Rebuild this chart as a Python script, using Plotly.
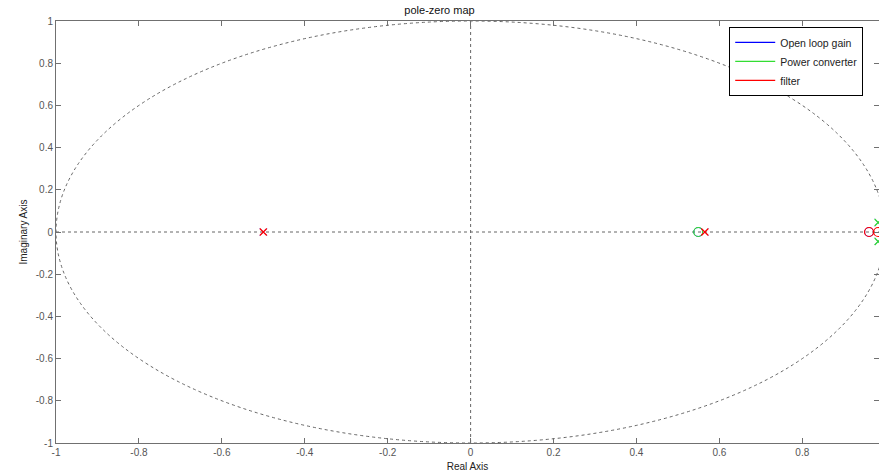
import plotly.graph_objects as go

# Pole/zero data
series_names = ["Open loop gain", "Power converter", "filter"]
series_colors = ["#0000ff", "#33dd33", "#ff0000"]

# poles (x markers) and zeros (o markers): real and imaginary parts
open_loop_poles_re = [0.565, -0.5, 0.983, 0.983]
open_loop_poles_im = [0.0, 0.0, 0.045, -0.045]
open_loop_zeros_re = [0.549, 0.961]
open_loop_zeros_im = [0.0, 0.0]

power_poles_re = [0.983, 0.983]
power_poles_im = [0.045, -0.045]
power_zeros_re = [0.549]
power_zeros_im = [0.0]

filter_poles_re = [-0.5, 0.565]
filter_poles_im = [0.0, 0.0]
filter_zeros_re = [0.961, 0.983]
filter_zeros_im = [0.0, 0.0]

x_ticks = [-1, -0.8, -0.6, -0.4, -0.2, 0, 0.2, 0.4, 0.6, 0.8]
y_ticks = [-1, -0.8, -0.6, -0.4, -0.2, 0, 0.2, 0.4, 0.6, 0.8, 1]

fig = go.Figure()

pz = [
    (open_loop_poles_re, open_loop_poles_im, open_loop_zeros_re, open_loop_zeros_im, 0.7),
    (power_poles_re, power_poles_im, power_zeros_re, power_zeros_im, 1.2),
    (filter_poles_re, filter_poles_im, filter_zeros_re, filter_zeros_im, 1.2),
]

for name, color, (pr, pi, zr, zi, lw) in zip(series_names, series_colors, pz):
    fig.add_trace(go.Scatter(x=pr, y=pi, mode="markers", showlegend=False,
                             marker=dict(symbol="x-thin", size=7, line=dict(color=color, width=lw), color=color)))
    fig.add_trace(go.Scatter(x=zr, y=zi, mode="markers", showlegend=False,
                             marker=dict(symbol="circle-open", size=9, color=color, line=dict(width=lw))))

for name, color in zip(series_names, series_colors):
    fig.add_trace(go.Scatter(x=[None], y=[None], mode="lines", name=name,
                             line=dict(color=color, width=1.2)))

dash_col = "#666666"
dash_style = "3px,3px"
fig.add_shape(type="circle", xref="x", yref="y", x0=-1, y0=-1, x1=1, y1=1,
              line=dict(color=dash_col, width=1, dash=dash_style), layer="below")
fig.add_shape(type="line", xref="x", yref="y", x0=-1, x1=1, y0=0, y1=0,
              line=dict(color=dash_col, width=1, dash=dash_style), layer="below")
fig.add_shape(type="line", xref="x", yref="y", x0=0, x1=0, y0=-1, y1=1,
              line=dict(color=dash_col, width=1, dash=dash_style), layer="below")

axis_common = dict(showgrid=False, zeroline=False, showline=True, mirror="ticks",
                   linecolor="#707070", linewidth=1, ticks="inside", ticklen=5,
                   tickcolor="#707070", automargin=False,
                   tickfont=dict(size=10, color="#555555", family="Liberation Sans, Arial"))

fig.update_layout(
    width=879, height=475,
    margin=dict(l=56, r=0, t=21, b=32, autoexpand=False),
    paper_bgcolor="white", plot_bgcolor="white",
    font=dict(family="Liberation Sans, Arial", size=10, color="#222222"),
    title=dict(text="pole-zero map", x=0.5, xanchor="center", y=0.979, yanchor="middle",
               font=dict(size=11, color="#111111"), automargin=False),
    xaxis=dict(range=[-1, 0.985], tickvals=x_ticks, ticktext=[f"{v:g}" for v in x_ticks],
               title=dict(text="Real Axis", font=dict(size=10), standoff=5), **axis_common),
    yaxis=dict(range=[-1, 1], tickvals=y_ticks, ticktext=[f"{v:g}" for v in y_ticks],
               title=dict(text="Imaginary Axis", font=dict(size=10), standoff=6), **axis_common),
    legend=dict(x=0.818, y=0.986, xanchor="left", yanchor="top", bgcolor="white",
                bordercolor="#000000", borderwidth=1, font=dict(size=10.5),
                itemwidth=40, tracegroupgap=0),
)

fig.write_html("out.html", config={"displayModeBar": False},
               post_script="document.body.style.margin='0';document.body.style.overflow='hidden';")
